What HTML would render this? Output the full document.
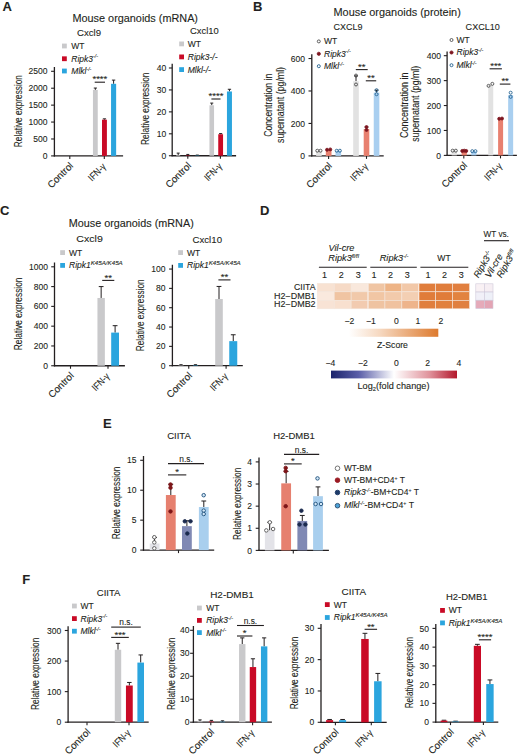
<!DOCTYPE html>
<html><head><meta charset="utf-8"><style>
html,body{margin:0;padding:0;background:#fff;}
svg{display:block;}
text{font-family:"Liberation Sans", sans-serif;fill:#231f20;stroke:#231f20;stroke-width:0.1px;}
</style></head><body>
<svg width="520" height="755" viewBox="0 0 520 755">
<rect width="520" height="755" fill="#fff"/>
<text x="2.6" y="10.8" font-size="13" font-weight="bold" >A</text>
<text x="252.9" y="10.8" font-size="13" font-weight="bold" >B</text>
<text x="0.1" y="214.6" font-size="13" font-weight="bold" >C</text>
<text x="259.9" y="214.6" font-size="13" font-weight="bold" >D</text>
<text x="103" y="427.8" font-size="13" font-weight="bold" >E</text>
<text x="22.3" y="583.5" font-size="13" font-weight="bold" >F</text>
<text x="72.5" y="22" font-size="10" textLength="125.5" lengthAdjust="spacingAndGlyphs" >Mouse organoids (mRNA)</text>
<text x="77" y="35.5" font-size="9.8" textLength="24" lengthAdjust="spacingAndGlyphs" >Cxcl9</text>
<rect x="62" y="43.6" width="4.8" height="4.8" fill="#c9c9cb" />
<text x="71.3" y="48.9" font-size="8.5" >WT</text>
<rect x="62" y="56.35" width="4.8" height="4.8" fill="#c90a26" />
<text x="71.3" y="61.65" font-size="8.5" ><tspan font-style="italic">Ripk3</tspan><tspan font-size="5.27" dy="-3.23" font-style="italic">-/-</tspan></text>
<rect x="62" y="68.6" width="4.8" height="4.8" fill="#2ba5de" />
<text x="71.3" y="73.9" font-size="8.5" ><tspan font-style="italic">Mlkl</tspan><tspan font-size="5.27" dy="-3.23" font-style="italic">-/-</tspan></text>
<line x1="54.4" y1="67" x2="54.4" y2="156.5" stroke="#231f20" stroke-width="1.3" />
<line x1="53.8" y1="155.9" x2="123.1" y2="155.9" stroke="#231f20" stroke-width="1.3" />
<line x1="51.1" y1="155.9" x2="54.4" y2="155.9" stroke="#231f20" stroke-width="1.1" />
<text x="47.6" y="159" font-size="9.7" text-anchor="end" textLength="4.75" lengthAdjust="spacingAndGlyphs" >0</text>
<line x1="51.1" y1="138.98" x2="54.4" y2="138.98" stroke="#231f20" stroke-width="1.1" />
<text x="47.6" y="142.08" font-size="9.7" text-anchor="end" textLength="14.25" lengthAdjust="spacingAndGlyphs" >500</text>
<line x1="51.1" y1="122.06" x2="54.4" y2="122.06" stroke="#231f20" stroke-width="1.1" />
<text x="47.6" y="125.16" font-size="9.7" text-anchor="end" textLength="19" lengthAdjust="spacingAndGlyphs" >1000</text>
<line x1="51.1" y1="105.14" x2="54.4" y2="105.14" stroke="#231f20" stroke-width="1.1" />
<text x="47.6" y="108.24" font-size="9.7" text-anchor="end" textLength="19" lengthAdjust="spacingAndGlyphs" >1500</text>
<line x1="51.1" y1="88.22" x2="54.4" y2="88.22" stroke="#231f20" stroke-width="1.1" />
<text x="47.6" y="91.32" font-size="9.7" text-anchor="end" textLength="19" lengthAdjust="spacingAndGlyphs" >2000</text>
<line x1="51.1" y1="71.3" x2="54.4" y2="71.3" stroke="#231f20" stroke-width="1.1" />
<text x="47.6" y="74.4" font-size="9.7" text-anchor="end" textLength="19" lengthAdjust="spacingAndGlyphs" >2500</text>
<line x1="69.8" y1="155.9" x2="69.8" y2="158.9" stroke="#231f20" stroke-width="1.1" />
<line x1="104.3" y1="155.9" x2="104.3" y2="158.9" stroke="#231f20" stroke-width="1.1" />
<line x1="95.35" y1="88.05" x2="95.35" y2="89.91" stroke="#231f20" stroke-width="1" />
<line x1="93.77" y1="88.05" x2="96.93" y2="88.05" stroke="#231f20" stroke-width="1" />
<rect x="92.95" y="89.91" width="4.8" height="65.99" fill="#c9c9cb" />
<line x1="104.45" y1="118.85" x2="104.45" y2="119.69" stroke="#231f20" stroke-width="1" />
<line x1="102.83" y1="118.85" x2="106.07" y2="118.85" stroke="#231f20" stroke-width="1" />
<rect x="102" y="119.69" width="4.9" height="36.21" fill="#c90a26" />
<line x1="113.6" y1="80.1" x2="113.6" y2="83.82" stroke="#231f20" stroke-width="1" />
<line x1="111.92" y1="80.1" x2="115.28" y2="80.1" stroke="#231f20" stroke-width="1" />
<rect x="111.05" y="83.82" width="5.1" height="72.08" fill="#2ba5de" />
<line x1="94.7" y1="82.2" x2="105" y2="82.2" stroke="#231f20" stroke-width="1.1" />
<text x="99.85" y="82.4" font-size="9.5" text-anchor="middle" >****</text>
<text x="21.7" y="111.1" font-size="10.6" text-anchor="middle" textLength="72.1" lengthAdjust="spacingAndGlyphs" transform="rotate(-90 21.7 111.1)" >Relative expression</text>
<text x="73.8" y="166.4" font-size="9.8" text-anchor="end" textLength="31.5" lengthAdjust="spacingAndGlyphs" transform="rotate(-45 73.8 166.4)" >Control</text>
<text x="106.6" y="167.2" font-size="9.8" text-anchor="end" textLength="20.5" lengthAdjust="spacingAndGlyphs" transform="rotate(-45 106.6 167.2)" >IFN-γ</text>
<text x="190" y="33.75" font-size="9.8" textLength="28.75" lengthAdjust="spacingAndGlyphs" >Cxcl10</text>
<rect x="179.2" y="41.5" width="4.8" height="4.8" fill="#c9c9cb" />
<text x="187.75" y="46.8" font-size="8.5" >WT</text>
<rect x="179.2" y="54.5" width="4.8" height="4.8" fill="#c90a26" />
<text x="187.75" y="59.8" font-size="8.5" ><tspan font-style="italic">Ripk3-/-</tspan></text>
<rect x="179.2" y="67.2" width="4.8" height="4.8" fill="#2ba5de" />
<text x="187.75" y="72.5" font-size="8.5" ><tspan font-style="italic">Mlkl-/-</tspan></text>
<line x1="172.2" y1="63.69" x2="172.2" y2="156.35" stroke="#231f20" stroke-width="1.3" />
<line x1="171.6" y1="155.75" x2="236.1" y2="155.75" stroke="#231f20" stroke-width="1.3" />
<line x1="168.9" y1="155.75" x2="172.2" y2="155.75" stroke="#231f20" stroke-width="1.1" />
<text x="166.2" y="158.85" font-size="9.7" text-anchor="end" textLength="4.75" lengthAdjust="spacingAndGlyphs" >0</text>
<line x1="168.9" y1="133.81" x2="172.2" y2="133.81" stroke="#231f20" stroke-width="1.1" />
<text x="166.2" y="136.91" font-size="9.7" text-anchor="end" textLength="9.5" lengthAdjust="spacingAndGlyphs" >10</text>
<line x1="168.9" y1="111.87" x2="172.2" y2="111.87" stroke="#231f20" stroke-width="1.1" />
<text x="166.2" y="114.97" font-size="9.7" text-anchor="end" textLength="9.5" lengthAdjust="spacingAndGlyphs" >20</text>
<line x1="168.9" y1="89.93" x2="172.2" y2="89.93" stroke="#231f20" stroke-width="1.1" />
<text x="166.2" y="93.03" font-size="9.7" text-anchor="end" textLength="9.5" lengthAdjust="spacingAndGlyphs" >30</text>
<line x1="168.9" y1="67.99" x2="172.2" y2="67.99" stroke="#231f20" stroke-width="1.1" />
<text x="166.2" y="71.09" font-size="9.7" text-anchor="end" textLength="9.5" lengthAdjust="spacingAndGlyphs" >40</text>
<line x1="187.8" y1="155.75" x2="187.8" y2="158.75" stroke="#231f20" stroke-width="1.1" />
<line x1="220.4" y1="155.75" x2="220.4" y2="158.75" stroke="#231f20" stroke-width="1.1" />
<line x1="178.2" y1="153.12" x2="178.2" y2="155.09" stroke="#231f20" stroke-width="1" />
<line x1="176.7" y1="153.12" x2="179.7" y2="153.12" stroke="#231f20" stroke-width="1" />
<rect x="176.2" y="155.09" width="4" height="0.66" fill="#c9c9cb" />
<line x1="187.8" y1="154.43" x2="187.8" y2="155.31" stroke="#231f20" stroke-width="1" />
<line x1="186.3" y1="154.43" x2="189.3" y2="154.43" stroke="#231f20" stroke-width="1" />
<rect x="185.8" y="155.31" width="4" height="0.44" fill="#c90a26" />
<line x1="197.3" y1="155.09" x2="197.3" y2="155.42" stroke="#231f20" stroke-width="1" />
<line x1="195.8" y1="155.09" x2="198.8" y2="155.09" stroke="#231f20" stroke-width="1" />
<rect x="195.3" y="155.42" width="4" height="0.33" fill="#2ba5de" />
<line x1="211.75" y1="103.09" x2="211.75" y2="105.29" stroke="#231f20" stroke-width="1" />
<line x1="210.23" y1="103.09" x2="213.27" y2="103.09" stroke="#231f20" stroke-width="1" />
<rect x="209.45" y="105.29" width="4.6" height="50.46" fill="#c9c9cb" />
<line x1="220.65" y1="133.59" x2="220.65" y2="134.25" stroke="#231f20" stroke-width="1" />
<line x1="219.07" y1="133.59" x2="222.23" y2="133.59" stroke="#231f20" stroke-width="1" />
<rect x="218.25" y="134.25" width="4.8" height="21.5" fill="#c90a26" />
<line x1="229.45" y1="89.27" x2="229.45" y2="91.47" stroke="#231f20" stroke-width="1" />
<line x1="227.8" y1="89.27" x2="231.1" y2="89.27" stroke="#231f20" stroke-width="1" />
<rect x="226.95" y="91.47" width="5" height="64.28" fill="#2ba5de" />
<line x1="211.4" y1="99" x2="220.5" y2="99" stroke="#231f20" stroke-width="1.1" />
<text x="215.95" y="99.2" font-size="9.5" text-anchor="middle" >****</text>
<text x="148.7" y="108.75" font-size="10.6" text-anchor="middle" textLength="72.3" lengthAdjust="spacingAndGlyphs" transform="rotate(-90 148.7 108.75)" >Relative expression</text>
<text x="191.8" y="166.25" font-size="9.8" text-anchor="end" textLength="31.5" lengthAdjust="spacingAndGlyphs" transform="rotate(-45 191.8 166.25)" >Control</text>
<text x="222.7" y="167.05" font-size="9.8" text-anchor="end" textLength="20.5" lengthAdjust="spacingAndGlyphs" transform="rotate(-45 222.7 167.05)" >IFN-γ</text>
<text x="333.5" y="15.6" font-size="10" textLength="127.3" lengthAdjust="spacingAndGlyphs" >Mouse organoids (protein)</text>
<text x="333.5" y="30.3" font-size="9.8" textLength="29" lengthAdjust="spacingAndGlyphs" >CXCL9</text>
<circle cx="318.8" cy="41.4" r="1.5" fill="none" stroke="#444" stroke-width="0.85"/>
<text x="324" y="44.3" font-size="8.5" >WT</text>
<circle cx="318.8" cy="53.8" r="1.6" fill="#7e1620" stroke="#7e1620" stroke-width="0.8"/>
<text x="324" y="56.7" font-size="8.5" ><tspan font-style="italic">Ripk3</tspan><tspan font-size="5.27" dy="-3.23" font-style="italic">-/-</tspan></text>
<circle cx="318.8" cy="66.2" r="1.5" fill="none" stroke="#1f5d8c" stroke-width="0.9"/>
<text x="324" y="69.1" font-size="8.5" ><tspan font-style="italic">Mlkl</tspan><tspan font-size="5.27" dy="-3.23" font-style="italic">-/-</tspan></text>
<line x1="311.8" y1="54.22" x2="311.8" y2="156.5" stroke="#231f20" stroke-width="1.3" />
<line x1="311.2" y1="155.9" x2="383.7" y2="155.9" stroke="#231f20" stroke-width="1.3" />
<line x1="308.5" y1="155.9" x2="311.8" y2="155.9" stroke="#231f20" stroke-width="1.1" />
<text x="304.9" y="159" font-size="9.7" text-anchor="end" textLength="4.75" lengthAdjust="spacingAndGlyphs" >0</text>
<line x1="308.5" y1="123.44" x2="311.8" y2="123.44" stroke="#231f20" stroke-width="1.1" />
<text x="304.9" y="126.54" font-size="9.7" text-anchor="end" textLength="14.25" lengthAdjust="spacingAndGlyphs" >200</text>
<line x1="308.5" y1="90.98" x2="311.8" y2="90.98" stroke="#231f20" stroke-width="1.1" />
<text x="304.9" y="94.08" font-size="9.7" text-anchor="end" textLength="14.25" lengthAdjust="spacingAndGlyphs" >400</text>
<line x1="308.5" y1="58.52" x2="311.8" y2="58.52" stroke="#231f20" stroke-width="1.1" />
<text x="304.9" y="61.62" font-size="9.7" text-anchor="end" textLength="14.25" lengthAdjust="spacingAndGlyphs" >600</text>
<line x1="328.6" y1="155.9" x2="328.6" y2="158.9" stroke="#231f20" stroke-width="1.1" />
<line x1="366.5" y1="155.9" x2="366.5" y2="158.9" stroke="#231f20" stroke-width="1.1" />
<rect x="316.1" y="151.03" width="5.6" height="4.87" fill="#e2e2e2" />
<circle cx="317.3" cy="150.71" r="1.5" fill="none" stroke="#444" stroke-width="0.85"/>
<circle cx="320.5" cy="150.71" r="1.5" fill="none" stroke="#444" stroke-width="0.85"/>
<rect x="325.8" y="149.73" width="5.7" height="6.17" fill="#e8806f" />
<circle cx="327.05" cy="149.73" r="1.5" fill="#7e1620" stroke="#7e1620" stroke-width="0.85"/>
<circle cx="330.25" cy="149.41" r="1.5" fill="#7e1620" stroke="#7e1620" stroke-width="0.85"/>
<rect x="335.5" y="150.71" width="5.6" height="5.19" fill="#a9cff0" />
<circle cx="336.7" cy="150.71" r="1.5" fill="none" stroke="#1f5d8c" stroke-width="0.85"/>
<circle cx="339.9" cy="150.71" r="1.5" fill="none" stroke="#1f5d8c" stroke-width="0.85"/>
<line x1="356" y1="75.89" x2="356" y2="81.24" stroke="#231f20" stroke-width="1" />
<line x1="354.15" y1="75.89" x2="357.85" y2="75.89" stroke="#231f20" stroke-width="1" />
<rect x="353.2" y="81.24" width="5.6" height="74.66" fill="#e2e2e2" />
<circle cx="356" cy="75.56" r="1.5" fill="none" stroke="#444" stroke-width="0.85"/>
<circle cx="356" cy="84.49" r="1.5" fill="none" stroke="#444" stroke-width="0.85"/>
<line x1="366.5" y1="127.01" x2="366.5" y2="129.12" stroke="#231f20" stroke-width="1" />
<line x1="364.65" y1="127.01" x2="368.35" y2="127.01" stroke="#231f20" stroke-width="1" />
<rect x="363.7" y="129.12" width="5.6" height="26.78" fill="#e8806f" />
<circle cx="366.5" cy="127.01" r="1.5" fill="#7e1620" stroke="#7e1620" stroke-width="0.85"/>
<circle cx="366.5" cy="129.93" r="1.5" fill="#7e1620" stroke="#7e1620" stroke-width="0.85"/>
<line x1="376.55" y1="90.17" x2="376.55" y2="92.6" stroke="#231f20" stroke-width="1" />
<line x1="374.7" y1="90.17" x2="378.4" y2="90.17" stroke="#231f20" stroke-width="1" />
<rect x="373.75" y="92.6" width="5.6" height="63.3" fill="#a9cff0" />
<circle cx="376.55" cy="90.17" r="1.5" fill="none" stroke="#1f5d8c" stroke-width="0.85"/>
<circle cx="376.55" cy="94.23" r="1.5" fill="none" stroke="#1f5d8c" stroke-width="0.85"/>
<line x1="355.8" y1="69.6" x2="367.7" y2="69.6" stroke="#231f20" stroke-width="1.1" />
<text x="361.75" y="69.8" font-size="9.5" text-anchor="middle" >**</text>
<line x1="365.8" y1="80.8" x2="376.2" y2="80.8" stroke="#231f20" stroke-width="1.1" />
<text x="371" y="81" font-size="9.5" text-anchor="middle" >**</text>
<text x="272" y="105.3" font-size="10.6" text-anchor="middle" textLength="63" lengthAdjust="spacingAndGlyphs" transform="rotate(-90 272 105.3)" >Concentration in</text>
<text x="284" y="105" font-size="10.6" text-anchor="middle" textLength="76" lengthAdjust="spacingAndGlyphs" transform="rotate(-90 284 105)" >supernatant (pg/ml)</text>
<text x="332.6" y="166.4" font-size="9.8" text-anchor="end" textLength="31.5" lengthAdjust="spacingAndGlyphs" transform="rotate(-45 332.6 166.4)" >Control</text>
<text x="368.8" y="167.2" font-size="9.8" text-anchor="end" textLength="20.5" lengthAdjust="spacingAndGlyphs" transform="rotate(-45 368.8 167.2)" >IFN-γ</text>
<text x="465.6" y="30.3" font-size="9.8" textLength="34.2" lengthAdjust="spacingAndGlyphs" >CXCL10</text>
<circle cx="451.5" cy="40" r="1.5" fill="none" stroke="#444" stroke-width="0.85"/>
<text x="456.5" y="42.9" font-size="8.5" >WT</text>
<circle cx="451.5" cy="52.5" r="1.6" fill="#7e1620" stroke="#7e1620" stroke-width="0.8"/>
<text x="456.5" y="55.4" font-size="8.5" ><tspan font-style="italic">Ripk3</tspan><tspan font-size="5.27" dy="-3.23" font-style="italic">-/-</tspan></text>
<circle cx="451.5" cy="65.2" r="1.5" fill="none" stroke="#1f5d8c" stroke-width="0.9"/>
<text x="456.5" y="68.1" font-size="8.5" ><tspan font-style="italic">Mlkl</tspan><tspan font-size="5.27" dy="-3.23" font-style="italic">-/-</tspan></text>
<line x1="447.1" y1="51.38" x2="447.1" y2="156" stroke="#231f20" stroke-width="1.3" />
<line x1="446.5" y1="155.4" x2="516.9" y2="155.4" stroke="#231f20" stroke-width="1.3" />
<line x1="443.8" y1="155.4" x2="447.1" y2="155.4" stroke="#231f20" stroke-width="1.1" />
<text x="441.1" y="158.5" font-size="9.7" text-anchor="end" textLength="4.75" lengthAdjust="spacingAndGlyphs" >0</text>
<line x1="443.8" y1="130.47" x2="447.1" y2="130.47" stroke="#231f20" stroke-width="1.1" />
<text x="441.1" y="133.57" font-size="9.7" text-anchor="end" textLength="14.25" lengthAdjust="spacingAndGlyphs" >100</text>
<line x1="443.8" y1="105.54" x2="447.1" y2="105.54" stroke="#231f20" stroke-width="1.1" />
<text x="441.1" y="108.64" font-size="9.7" text-anchor="end" textLength="14.25" lengthAdjust="spacingAndGlyphs" >200</text>
<line x1="443.8" y1="80.61" x2="447.1" y2="80.61" stroke="#231f20" stroke-width="1.1" />
<text x="441.1" y="83.71" font-size="9.7" text-anchor="end" textLength="14.25" lengthAdjust="spacingAndGlyphs" >300</text>
<line x1="443.8" y1="55.68" x2="447.1" y2="55.68" stroke="#231f20" stroke-width="1.1" />
<text x="441.1" y="58.78" font-size="9.7" text-anchor="end" textLength="14.25" lengthAdjust="spacingAndGlyphs" >400</text>
<line x1="463.8" y1="155.4" x2="463.8" y2="158.4" stroke="#231f20" stroke-width="1.1" />
<line x1="500.5" y1="155.4" x2="500.5" y2="158.4" stroke="#231f20" stroke-width="1.1" />
<rect x="451.65" y="150.66" width="5.2" height="4.74" fill="#e2e2e2" />
<circle cx="452.65" cy="150.66" r="1.5" fill="none" stroke="#444" stroke-width="0.85"/>
<circle cx="455.85" cy="150.66" r="1.5" fill="none" stroke="#444" stroke-width="0.85"/>
<rect x="461.65" y="150.91" width="5.2" height="4.49" fill="#e8806f" />
<circle cx="462.25" cy="150.91" r="1.5" fill="#7e1620" stroke="#7e1620" stroke-width="0.85"/>
<circle cx="464.25" cy="150.66" r="1.5" fill="#7e1620" stroke="#7e1620" stroke-width="0.85"/>
<circle cx="466.25" cy="150.91" r="1.5" fill="#7e1620" stroke="#7e1620" stroke-width="0.85"/>
<rect x="471.25" y="151.16" width="5.2" height="4.24" fill="#a9cff0" />
<circle cx="472.25" cy="151.16" r="1.5" fill="none" stroke="#1f5d8c" stroke-width="0.85"/>
<circle cx="475.45" cy="151.16" r="1.5" fill="none" stroke="#1f5d8c" stroke-width="0.85"/>
<rect x="488.25" y="84.85" width="5" height="70.55" fill="#e2e2e2" />
<circle cx="488.55" cy="85.85" r="1.5" fill="none" stroke="#444" stroke-width="0.85"/>
<circle cx="492.35" cy="83.85" r="1.5" fill="none" stroke="#444" stroke-width="0.85"/>
<rect x="498.1" y="118.75" width="5" height="36.65" fill="#e8806f" />
<circle cx="499.2" cy="118.75" r="1.5" fill="#7e1620" stroke="#7e1620" stroke-width="0.85"/>
<circle cx="502" cy="118.5" r="1.5" fill="#7e1620" stroke="#7e1620" stroke-width="0.85"/>
<rect x="508.15" y="95.07" width="5" height="60.33" fill="#a9cff0" />
<circle cx="510.65" cy="92.7" r="1.5" fill="none" stroke="#1f5d8c" stroke-width="0.85"/>
<circle cx="510.65" cy="96.89" r="1.5" fill="none" stroke="#1f5d8c" stroke-width="0.85"/>
<line x1="489.6" y1="68.8" x2="501.9" y2="68.8" stroke="#231f20" stroke-width="1.1" />
<text x="495.75" y="69" font-size="9.5" text-anchor="middle" >***</text>
<line x1="499.8" y1="84.1" x2="510.4" y2="84.1" stroke="#231f20" stroke-width="1.1" />
<text x="505.1" y="84.3" font-size="9.5" text-anchor="middle" >**</text>
<text x="407.6" y="105.3" font-size="10.6" text-anchor="middle" textLength="65.4" lengthAdjust="spacingAndGlyphs" transform="rotate(-90 407.6 105.3)" >Concentration in</text>
<text x="419" y="103.8" font-size="10.6" text-anchor="middle" textLength="76" lengthAdjust="spacingAndGlyphs" transform="rotate(-90 419 103.8)" >supernatant (pg/ml)</text>
<text x="467.8" y="165.9" font-size="9.8" text-anchor="end" textLength="31.5" lengthAdjust="spacingAndGlyphs" transform="rotate(-45 467.8 165.9)" >Control</text>
<text x="502.8" y="166.7" font-size="9.8" text-anchor="end" textLength="20.5" lengthAdjust="spacingAndGlyphs" transform="rotate(-45 502.8 166.7)" >IFN-γ</text>
<text x="68.75" y="226.9" font-size="10" textLength="125" lengthAdjust="spacingAndGlyphs" >Mouse organoids (mRNA)</text>
<text x="76.3" y="242.3" font-size="9.8" textLength="26.5" lengthAdjust="spacingAndGlyphs" >Cxcl9</text>
<rect x="60.2" y="250.2" width="4.8" height="4.8" fill="#c9c9cb" />
<text x="69" y="255.5" font-size="8.5" >WT</text>
<rect x="60.2" y="263" width="4.8" height="4.8" fill="#2ba5de" />
<text x="69" y="268.3" font-size="8.5" ><tspan font-style="italic">Ripk1</tspan><tspan font-size="6.2" dy="-3.3" font-style="italic">K45A/K45A</tspan></text>
<line x1="54.5" y1="262.5" x2="54.5" y2="366.35" stroke="#231f20" stroke-width="1.3" />
<line x1="53.9" y1="365.75" x2="124.9" y2="365.75" stroke="#231f20" stroke-width="1.3" />
<line x1="51.2" y1="365.75" x2="54.5" y2="365.75" stroke="#231f20" stroke-width="1.1" />
<text x="47.9" y="368.85" font-size="9.7" text-anchor="end" textLength="4.75" lengthAdjust="spacingAndGlyphs" >0</text>
<line x1="51.2" y1="345.96" x2="54.5" y2="345.96" stroke="#231f20" stroke-width="1.1" />
<text x="47.9" y="349.06" font-size="9.7" text-anchor="end" textLength="14.25" lengthAdjust="spacingAndGlyphs" >200</text>
<line x1="51.2" y1="326.17" x2="54.5" y2="326.17" stroke="#231f20" stroke-width="1.1" />
<text x="47.9" y="329.27" font-size="9.7" text-anchor="end" textLength="14.25" lengthAdjust="spacingAndGlyphs" >400</text>
<line x1="51.2" y1="306.38" x2="54.5" y2="306.38" stroke="#231f20" stroke-width="1.1" />
<text x="47.9" y="309.48" font-size="9.7" text-anchor="end" textLength="14.25" lengthAdjust="spacingAndGlyphs" >600</text>
<line x1="51.2" y1="286.59" x2="54.5" y2="286.59" stroke="#231f20" stroke-width="1.1" />
<text x="47.9" y="289.69" font-size="9.7" text-anchor="end" textLength="14.25" lengthAdjust="spacingAndGlyphs" >800</text>
<line x1="51.2" y1="266.8" x2="54.5" y2="266.8" stroke="#231f20" stroke-width="1.1" />
<text x="47.9" y="269.9" font-size="9.7" text-anchor="end" textLength="19" lengthAdjust="spacingAndGlyphs" >1000</text>
<line x1="70.5" y1="365.75" x2="70.5" y2="368.75" stroke="#231f20" stroke-width="1.1" />
<line x1="108" y1="365.75" x2="108" y2="368.75" stroke="#231f20" stroke-width="1.1" />
<line x1="101.15" y1="286.59" x2="101.15" y2="297.97" stroke="#231f20" stroke-width="1" />
<line x1="98.75" y1="286.59" x2="103.55" y2="286.59" stroke="#231f20" stroke-width="1" />
<rect x="97.45" y="297.97" width="7.4" height="67.78" fill="#c9c9cb" />
<line x1="115.1" y1="325.68" x2="115.1" y2="332.6" stroke="#231f20" stroke-width="1" />
<line x1="112.7" y1="325.68" x2="117.5" y2="325.68" stroke="#231f20" stroke-width="1" />
<rect x="111.2" y="332.6" width="7.8" height="33.15" fill="#2ba5de" />
<line x1="102.2" y1="280.4" x2="114.3" y2="280.4" stroke="#231f20" stroke-width="1.1" />
<text x="108.25" y="280.6" font-size="9.5" text-anchor="middle" >**</text>
<text x="21.7" y="313.9" font-size="10.6" text-anchor="middle" textLength="72.7" lengthAdjust="spacingAndGlyphs" transform="rotate(-90 21.7 313.9)" >Relative expression</text>
<text x="74.5" y="376.25" font-size="9.8" text-anchor="end" textLength="31.5" lengthAdjust="spacingAndGlyphs" transform="rotate(-45 74.5 376.25)" >Control</text>
<text x="110.3" y="377.05" font-size="9.8" text-anchor="end" textLength="20.5" lengthAdjust="spacingAndGlyphs" transform="rotate(-45 110.3 377.05)" >IFN-γ</text>
<text x="192.5" y="242.5" font-size="9.8" textLength="29.5" lengthAdjust="spacingAndGlyphs" >Cxcl10</text>
<rect x="178.2" y="250.2" width="4.8" height="4.8" fill="#c9c9cb" />
<text x="187" y="255.5" font-size="8.5" >WT</text>
<rect x="178.2" y="263" width="4.8" height="4.8" fill="#2ba5de" />
<text x="187" y="268.3" font-size="8.5" ><tspan font-style="italic">Ripk1</tspan><tspan font-size="6.2" dy="-3.3" font-style="italic">K45A/K45A</tspan></text>
<line x1="172.4" y1="264.75" x2="172.4" y2="366.3" stroke="#231f20" stroke-width="1.3" />
<line x1="171.8" y1="365.7" x2="242.8" y2="365.7" stroke="#231f20" stroke-width="1.3" />
<line x1="169.1" y1="365.7" x2="172.4" y2="365.7" stroke="#231f20" stroke-width="1.1" />
<text x="165.6" y="368.8" font-size="9.7" text-anchor="end" textLength="4.75" lengthAdjust="spacingAndGlyphs" >0</text>
<line x1="169.1" y1="346.37" x2="172.4" y2="346.37" stroke="#231f20" stroke-width="1.1" />
<text x="165.6" y="349.47" font-size="9.7" text-anchor="end" textLength="9.5" lengthAdjust="spacingAndGlyphs" >20</text>
<line x1="169.1" y1="327.04" x2="172.4" y2="327.04" stroke="#231f20" stroke-width="1.1" />
<text x="165.6" y="330.14" font-size="9.7" text-anchor="end" textLength="9.5" lengthAdjust="spacingAndGlyphs" >40</text>
<line x1="169.1" y1="307.71" x2="172.4" y2="307.71" stroke="#231f20" stroke-width="1.1" />
<text x="165.6" y="310.81" font-size="9.7" text-anchor="end" textLength="9.5" lengthAdjust="spacingAndGlyphs" >60</text>
<line x1="169.1" y1="288.38" x2="172.4" y2="288.38" stroke="#231f20" stroke-width="1.1" />
<text x="165.6" y="291.48" font-size="9.7" text-anchor="end" textLength="9.5" lengthAdjust="spacingAndGlyphs" >80</text>
<line x1="169.1" y1="269.05" x2="172.4" y2="269.05" stroke="#231f20" stroke-width="1.1" />
<text x="165.6" y="272.15" font-size="9.7" text-anchor="end" textLength="14.25" lengthAdjust="spacingAndGlyphs" >100</text>
<line x1="188.75" y1="365.7" x2="188.75" y2="368.7" stroke="#231f20" stroke-width="1.1" />
<line x1="226.1" y1="365.7" x2="226.1" y2="368.7" stroke="#231f20" stroke-width="1.1" />
<line x1="181" y1="364.73" x2="181" y2="365.31" stroke="#231f20" stroke-width="1" />
<line x1="179.35" y1="364.73" x2="182.65" y2="364.73" stroke="#231f20" stroke-width="1" />
<rect x="178.5" y="365.31" width="5" height="0.39" fill="#c9c9cb" />
<line x1="195.5" y1="364.73" x2="195.5" y2="365.31" stroke="#231f20" stroke-width="1" />
<line x1="193.85" y1="364.73" x2="197.15" y2="364.73" stroke="#231f20" stroke-width="1" />
<rect x="193" y="365.31" width="5" height="0.39" fill="#2ba5de" />
<line x1="219" y1="286.45" x2="219" y2="299.01" stroke="#231f20" stroke-width="1" />
<line x1="216.6" y1="286.45" x2="221.4" y2="286.45" stroke="#231f20" stroke-width="1" />
<rect x="215.2" y="299.01" width="7.6" height="66.69" fill="#c9c9cb" />
<line x1="233.25" y1="334.77" x2="233.25" y2="341.15" stroke="#231f20" stroke-width="1" />
<line x1="230.85" y1="334.77" x2="235.65" y2="334.77" stroke="#231f20" stroke-width="1" />
<rect x="229.25" y="341.15" width="8" height="24.55" fill="#2ba5de" />
<line x1="218.4" y1="279.9" x2="230.5" y2="279.9" stroke="#231f20" stroke-width="1.1" />
<text x="224.45" y="280.1" font-size="9.5" text-anchor="middle" >**</text>
<text x="144.3" y="315.3" font-size="10.6" text-anchor="middle" textLength="72" lengthAdjust="spacingAndGlyphs" transform="rotate(-90 144.3 315.3)" >Relative expression</text>
<text x="192.75" y="376.2" font-size="9.8" text-anchor="end" textLength="31.5" lengthAdjust="spacingAndGlyphs" transform="rotate(-45 192.75 376.2)" >Control</text>
<text x="228.4" y="377" font-size="9.8" text-anchor="end" textLength="20.5" lengthAdjust="spacingAndGlyphs" transform="rotate(-45 228.4 377)" >IFN-γ</text>
<text x="341.5" y="250.9" font-size="9.2" text-anchor="middle" font-style="italic" textLength="25.8" lengthAdjust="spacingAndGlyphs" >Vil-cre</text>
<text x="343.6" y="261.4" font-size="9.2" text-anchor="middle" ><tspan font-style="italic">Ripk3</tspan><tspan font-size="5.6" dy="-3.4" font-style="italic">fl/fl</tspan></text>
<text x="394.1" y="261.4" font-size="9.2" text-anchor="middle" ><tspan font-style="italic">Ripk3</tspan><tspan font-size="5.6" dy="-3.4" font-style="italic">-/-</tspan></text>
<text x="444" y="261.4" font-size="8.6" text-anchor="middle" >WT</text>
<line x1="318.9" y1="267.2" x2="366.7" y2="267.2" stroke="#231f20" stroke-width="1.1" />
<line x1="370.3" y1="267.2" x2="416.8" y2="267.2" stroke="#231f20" stroke-width="1.1" />
<line x1="420.4" y1="267.2" x2="468.3" y2="267.2" stroke="#231f20" stroke-width="1.1" />
<text x="324.4" y="277.5" font-size="9" text-anchor="middle" >1</text>
<text x="341.3" y="277.5" font-size="9" text-anchor="middle" >2</text>
<text x="358.2" y="277.5" font-size="9" text-anchor="middle" >3</text>
<text x="373.9" y="277.5" font-size="9" text-anchor="middle" >1</text>
<text x="390.4" y="277.5" font-size="9" text-anchor="middle" >2</text>
<text x="407.3" y="277.5" font-size="9" text-anchor="middle" >3</text>
<text x="427.9" y="277.5" font-size="9" text-anchor="middle" >1</text>
<text x="444.6" y="277.5" font-size="9" text-anchor="middle" >2</text>
<text x="461.3" y="277.5" font-size="9" text-anchor="middle" >3</text>
<rect x="317.3" y="283.3" width="16.91" height="8.5" fill="#f8e2d2" stroke="#f3e6dc" stroke-width="0.6"/>
<rect x="334.21" y="283.3" width="16.91" height="8.5" fill="#f6dac6" stroke="#f3e6dc" stroke-width="0.6"/>
<rect x="351.12" y="283.3" width="16.91" height="8.5" fill="#f9e8dc" stroke="#f3e6dc" stroke-width="0.6"/>
<rect x="368.03" y="283.3" width="16.91" height="8.5" fill="#f0c5a3" stroke="#f3e6dc" stroke-width="0.6"/>
<rect x="384.94" y="283.3" width="16.91" height="8.5" fill="#eeb486" stroke="#f3e6dc" stroke-width="0.6"/>
<rect x="401.86" y="283.3" width="16.91" height="8.5" fill="#f2c8a8" stroke="#f3e6dc" stroke-width="0.6"/>
<rect x="418.77" y="283.3" width="16.91" height="8.5" fill="#e07d3c" stroke="#f3e6dc" stroke-width="0.6"/>
<rect x="435.68" y="283.3" width="16.91" height="8.5" fill="#e07d3c" stroke="#f3e6dc" stroke-width="0.6"/>
<rect x="452.59" y="283.3" width="16.91" height="8.5" fill="#e17f3f" stroke="#f3e6dc" stroke-width="0.6"/>
<rect x="317.3" y="291.8" width="16.91" height="8.5" fill="#fae9de" stroke="#f3e6dc" stroke-width="0.6"/>
<rect x="334.21" y="291.8" width="16.91" height="8.5" fill="#f0c4a2" stroke="#f3e6dc" stroke-width="0.6"/>
<rect x="351.12" y="291.8" width="16.91" height="8.5" fill="#f1c9aa" stroke="#f3e6dc" stroke-width="0.6"/>
<rect x="368.03" y="291.8" width="16.91" height="8.5" fill="#f1c6a4" stroke="#f3e6dc" stroke-width="0.6"/>
<rect x="384.94" y="291.8" width="16.91" height="8.5" fill="#f2caab" stroke="#f3e6dc" stroke-width="0.6"/>
<rect x="401.86" y="291.8" width="16.91" height="8.5" fill="#f3cfb3" stroke="#f3e6dc" stroke-width="0.6"/>
<rect x="418.77" y="291.8" width="16.91" height="8.5" fill="#e07c3a" stroke="#f3e6dc" stroke-width="0.6"/>
<rect x="435.68" y="291.8" width="16.91" height="8.5" fill="#e07c3a" stroke="#f3e6dc" stroke-width="0.6"/>
<rect x="452.59" y="291.8" width="16.91" height="8.5" fill="#e2833f" stroke="#f3e6dc" stroke-width="0.6"/>
<rect x="317.3" y="300.3" width="16.91" height="8.5" fill="#f8e3d5" stroke="#f3e6dc" stroke-width="0.6"/>
<rect x="334.21" y="300.3" width="16.91" height="8.5" fill="#f8e0cf" stroke="#f3e6dc" stroke-width="0.6"/>
<rect x="351.12" y="300.3" width="16.91" height="8.5" fill="#f2cbb0" stroke="#f3e6dc" stroke-width="0.6"/>
<rect x="368.03" y="300.3" width="16.91" height="8.5" fill="#efc3a1" stroke="#f3e6dc" stroke-width="0.6"/>
<rect x="384.94" y="300.3" width="16.91" height="8.5" fill="#f0c29f" stroke="#f3e6dc" stroke-width="0.6"/>
<rect x="401.86" y="300.3" width="16.91" height="8.5" fill="#eeb48b" stroke="#f3e6dc" stroke-width="0.6"/>
<rect x="418.77" y="300.3" width="16.91" height="8.5" fill="#e07e3d" stroke="#f3e6dc" stroke-width="0.6"/>
<rect x="435.68" y="300.3" width="16.91" height="8.5" fill="#e1803d" stroke="#f3e6dc" stroke-width="0.6"/>
<rect x="452.59" y="300.3" width="16.91" height="8.5" fill="#e08040" stroke="#f3e6dc" stroke-width="0.6"/>
<line x1="368.03" y1="283.3" x2="368.03" y2="308.8" stroke="#fbf3ee" stroke-width="0.8" />
<line x1="418.77" y1="283.3" x2="418.77" y2="308.8" stroke="#fbf3ee" stroke-width="0.8" />
<text x="315.6" y="289.8" font-size="8.4" text-anchor="end" textLength="21.6" lengthAdjust="spacingAndGlyphs" >CIITA</text>
<text x="315.6" y="298.5" font-size="8.4" text-anchor="end" textLength="41.6" lengthAdjust="spacingAndGlyphs" >H2−DMB1</text>
<text x="315.6" y="307.1" font-size="8.4" text-anchor="end" textLength="41.6" lengthAdjust="spacingAndGlyphs" >H2−DMB2</text>
<rect x="475.8" y="283.8" width="8.6" height="8.23" fill="#f9f1f4" stroke="#cfc9da" stroke-width="0.6"/>
<rect x="484.4" y="283.8" width="8.6" height="8.23" fill="#f6eef3" stroke="#cfc9da" stroke-width="0.6"/>
<rect x="475.8" y="292.03" width="8.6" height="8.23" fill="#f1f0f8" stroke="#cfc9da" stroke-width="0.6"/>
<rect x="484.4" y="292.03" width="8.6" height="8.23" fill="#eef0f8" stroke="#cfc9da" stroke-width="0.6"/>
<rect x="475.8" y="300.26" width="8.6" height="8.23" fill="#e5aab9" stroke="#cfc9da" stroke-width="0.6"/>
<rect x="484.4" y="300.26" width="8.6" height="8.23" fill="#e3a4b4" stroke="#cfc9da" stroke-width="0.6"/>
<text x="483.5" y="237.2" font-size="8.6" textLength="25.4" lengthAdjust="spacingAndGlyphs" >WT vs.</text>
<line x1="484" y1="240.7" x2="509" y2="240.7" stroke="#231f20" stroke-width="1.1" />
<text x="478.5" y="278.5" font-size="9.2" transform="rotate(-60 478.5 278.5)" ><tspan font-style="italic">Ripk3</tspan><tspan font-size="5.5" dy="-3.4" font-style="italic">-/-</tspan></text>
<text x="490" y="278.5" font-size="9.2" font-style="italic" transform="rotate(-60 490 278.5)" >Vil-cre</text>
<text x="501.5" y="278.5" font-size="9.2" transform="rotate(-60 501.5 278.5)" ><tspan font-style="italic">Ripk3</tspan><tspan font-size="5.5" dy="-3.4" font-style="italic">fl/fl</tspan></text>
<text x="349.5" y="323.8" font-size="8.6" text-anchor="middle" >−2</text>
<text x="371" y="323.8" font-size="8.6" text-anchor="middle" >−1</text>
<text x="396.4" y="323.8" font-size="8.6" text-anchor="middle" >0</text>
<text x="418" y="323.8" font-size="8.6" text-anchor="middle" >1</text>
<text x="441" y="323.8" font-size="8.6" text-anchor="middle" >2</text>
<defs><linearGradient id="gz" x1="0" x2="1" y1="0" y2="0"><stop offset="0" stop-color="#ffffff"/><stop offset="0.35" stop-color="#f6d8c0"/><stop offset="1" stop-color="#dd7a2e"/></linearGradient><linearGradient id="gl" x1="0" x2="1" y1="0" y2="0"><stop offset="0" stop-color="#1b236b"/><stop offset="0.22" stop-color="#5a5ea8"/><stop offset="0.5" stop-color="#ffffff"/><stop offset="0.78" stop-color="#e0939c"/><stop offset="1" stop-color="#b3182c"/></linearGradient></defs>
<rect x="348.8" y="328.7" width="89.5" height="8.1" fill="url(#gz)" />
<text x="392.5" y="348.4" font-size="8.6" text-anchor="middle" textLength="30.9" lengthAdjust="spacingAndGlyphs" >Z-Score</text>
<text x="330.5" y="365.7" font-size="8.6" text-anchor="middle" >−4</text>
<text x="363" y="365.7" font-size="8.6" text-anchor="middle" >−2</text>
<text x="396.4" y="365.7" font-size="8.6" text-anchor="middle" >0</text>
<text x="427.6" y="365.7" font-size="8.6" text-anchor="middle" >2</text>
<text x="459" y="365.7" font-size="8.6" text-anchor="middle" >4</text>
<rect x="331" y="370.6" width="126" height="7.8" fill="url(#gl)" />
<text x="393.5" y="389.3" font-size="8.6" text-anchor="middle" textLength="72" lengthAdjust="spacingAndGlyphs" >Log<tspan font-size="5.4" dy="2">2</tspan><tspan dy="-2">(fold change)</tspan></text>
<text x="179" y="439" font-size="9.8" text-anchor="middle" textLength="23.7" lengthAdjust="spacingAndGlyphs" >CIITA</text>
<text x="294" y="439.4" font-size="9.8" text-anchor="middle" textLength="41.7" lengthAdjust="spacingAndGlyphs" >H2-DMB1</text>
<line x1="143.5" y1="456" x2="143.5" y2="550.7" stroke="#231f20" stroke-width="1.3" />
<line x1="142.9" y1="550.1" x2="214.2" y2="550.1" stroke="#231f20" stroke-width="1.3" />
<line x1="140.2" y1="550.1" x2="143.5" y2="550.1" stroke="#231f20" stroke-width="1.1" />
<text x="136.5" y="553.2" font-size="9.7" text-anchor="end" textLength="4.75" lengthAdjust="spacingAndGlyphs" >0</text>
<line x1="140.2" y1="520.16" x2="143.5" y2="520.16" stroke="#231f20" stroke-width="1.1" />
<text x="136.5" y="523.26" font-size="9.7" text-anchor="end" textLength="4.75" lengthAdjust="spacingAndGlyphs" >5</text>
<line x1="140.2" y1="490.23" x2="143.5" y2="490.23" stroke="#231f20" stroke-width="1.1" />
<text x="136.5" y="493.33" font-size="9.7" text-anchor="end" textLength="9.5" lengthAdjust="spacingAndGlyphs" >10</text>
<line x1="140.2" y1="460.3" x2="143.5" y2="460.3" stroke="#231f20" stroke-width="1.1" />
<text x="136.5" y="463.4" font-size="9.7" text-anchor="end" textLength="9.5" lengthAdjust="spacingAndGlyphs" >15</text>
<line x1="178.5" y1="550.1" x2="178.5" y2="553.1" stroke="#231f20" stroke-width="1.1" />
<line x1="154.6" y1="537.53" x2="154.6" y2="543.51" stroke="#231f20" stroke-width="1" />
<line x1="152.2" y1="537.53" x2="157" y2="537.53" stroke="#231f20" stroke-width="1" />
<rect x="149.7" y="543.51" width="9.8" height="6.59" fill="#e3e3e8" />
<circle cx="154.3" cy="537.2" r="1.75" fill="#fff" stroke="#555" stroke-width="0.9"/>
<circle cx="154.3" cy="542.4" r="1.75" fill="#fff" stroke="#555" stroke-width="0.9"/>
<circle cx="154.3" cy="548.3" r="1.75" fill="#fff" stroke="#555" stroke-width="0.9"/>
<line x1="170.8" y1="484.24" x2="170.8" y2="495.02" stroke="#231f20" stroke-width="1" />
<line x1="168.4" y1="484.24" x2="173.2" y2="484.24" stroke="#231f20" stroke-width="1" />
<rect x="165.9" y="495.02" width="9.8" height="55.08" fill="#e6806f" />
<circle cx="170.5" cy="484.5" r="1.75" fill="#7d1518" stroke="#7d1518" stroke-width="0.9"/>
<circle cx="170.5" cy="487.7" r="1.75" fill="#7d1518" stroke="#7d1518" stroke-width="0.9"/>
<circle cx="170.5" cy="511.4" r="1.75" fill="#7d1518" stroke="#7d1518" stroke-width="0.9"/>
<line x1="186.9" y1="520.76" x2="186.9" y2="526.15" stroke="#231f20" stroke-width="1" />
<line x1="184.5" y1="520.76" x2="189.3" y2="520.76" stroke="#231f20" stroke-width="1" />
<rect x="182" y="526.15" width="9.8" height="23.95" fill="#8089b4" />
<circle cx="184.8" cy="521.3" r="1.75" fill="#1b2a4e" stroke="#1b2a4e" stroke-width="0.9"/>
<circle cx="190.5" cy="521.3" r="1.75" fill="#1b2a4e" stroke="#1b2a4e" stroke-width="0.9"/>
<circle cx="187.3" cy="533.5" r="1.75" fill="#1b2a4e" stroke="#1b2a4e" stroke-width="0.9"/>
<line x1="203.8" y1="501.01" x2="203.8" y2="506.99" stroke="#231f20" stroke-width="1" />
<line x1="201.4" y1="501.01" x2="206.2" y2="501.01" stroke="#231f20" stroke-width="1" />
<rect x="198.9" y="506.99" width="9.8" height="43.11" fill="#a9cfee" />
<circle cx="203.7" cy="495.2" r="1.75" fill="#d4e8f8" stroke="#1d4f7a" stroke-width="0.9"/>
<circle cx="203.7" cy="510.6" r="1.75" fill="#d4e8f8" stroke="#1d4f7a" stroke-width="0.9"/>
<circle cx="203.7" cy="514" r="1.75" fill="#d4e8f8" stroke="#1d4f7a" stroke-width="0.9"/>
<line x1="168" y1="463.6" x2="204" y2="463.6" stroke="#231f20" stroke-width="1.1" />
<text x="186" y="461.8" font-size="8.4" text-anchor="middle" >n.s.</text>
<line x1="168" y1="474.9" x2="186.3" y2="474.9" stroke="#231f20" stroke-width="1.1" />
<text x="177.15" y="475.1" font-size="9.5" text-anchor="middle" >*</text>
<text x="120.5" y="502.9" font-size="10.6" text-anchor="middle" textLength="72.7" lengthAdjust="spacingAndGlyphs" transform="rotate(-90 120.5 502.9)" >Relative expression</text>
<line x1="259" y1="457.6" x2="259" y2="551" stroke="#231f20" stroke-width="1.3" />
<line x1="258.4" y1="550.4" x2="328.9" y2="550.4" stroke="#231f20" stroke-width="1.3" />
<line x1="255.7" y1="550.4" x2="259" y2="550.4" stroke="#231f20" stroke-width="1.1" />
<text x="252.1" y="553.5" font-size="9.7" text-anchor="end" textLength="4.75" lengthAdjust="spacingAndGlyphs" >0</text>
<line x1="255.7" y1="528.27" x2="259" y2="528.27" stroke="#231f20" stroke-width="1.1" />
<text x="252.1" y="531.38" font-size="9.7" text-anchor="end" textLength="4.75" lengthAdjust="spacingAndGlyphs" >1</text>
<line x1="255.7" y1="506.15" x2="259" y2="506.15" stroke="#231f20" stroke-width="1.1" />
<text x="252.1" y="509.25" font-size="9.7" text-anchor="end" textLength="4.75" lengthAdjust="spacingAndGlyphs" >2</text>
<line x1="255.7" y1="484.02" x2="259" y2="484.02" stroke="#231f20" stroke-width="1.1" />
<text x="252.1" y="487.12" font-size="9.7" text-anchor="end" textLength="4.75" lengthAdjust="spacingAndGlyphs" >3</text>
<line x1="255.7" y1="461.9" x2="259" y2="461.9" stroke="#231f20" stroke-width="1.1" />
<text x="252.1" y="465" font-size="9.7" text-anchor="end" textLength="4.75" lengthAdjust="spacingAndGlyphs" >4</text>
<line x1="293.3" y1="550.4" x2="293.3" y2="553.4" stroke="#231f20" stroke-width="1.1" />
<line x1="269.7" y1="522.3" x2="269.7" y2="530.49" stroke="#231f20" stroke-width="1" />
<line x1="267.3" y1="522.3" x2="272.1" y2="522.3" stroke="#231f20" stroke-width="1" />
<rect x="264.9" y="530.49" width="9.6" height="19.91" fill="#e3e3e8" />
<circle cx="266.3" cy="530.4" r="1.75" fill="#fff" stroke="#555" stroke-width="0.9"/>
<circle cx="269.8" cy="522.3" r="1.75" fill="#fff" stroke="#555" stroke-width="0.9"/>
<circle cx="273.1" cy="529" r="1.75" fill="#fff" stroke="#555" stroke-width="0.9"/>
<line x1="286.15" y1="471.41" x2="286.15" y2="483.36" stroke="#231f20" stroke-width="1" />
<line x1="283.75" y1="471.41" x2="288.55" y2="471.41" stroke="#231f20" stroke-width="1" />
<rect x="281.25" y="483.36" width="9.8" height="67.04" fill="#e6806f" />
<circle cx="285.7" cy="467.9" r="1.75" fill="#7d1518" stroke="#7d1518" stroke-width="0.9"/>
<circle cx="285.7" cy="471.2" r="1.75" fill="#7d1518" stroke="#7d1518" stroke-width="0.9"/>
<circle cx="285.7" cy="506.2" r="1.75" fill="#7d1518" stroke="#7d1518" stroke-width="0.9"/>
<line x1="302.3" y1="515.44" x2="302.3" y2="520.97" stroke="#231f20" stroke-width="1" />
<line x1="299.9" y1="515.44" x2="304.7" y2="515.44" stroke="#231f20" stroke-width="1" />
<rect x="297.4" y="520.97" width="9.8" height="29.43" fill="#8089b4" />
<circle cx="301.4" cy="510.7" r="1.75" fill="#1b2a4e" stroke="#1b2a4e" stroke-width="0.9"/>
<circle cx="299.5" cy="524.5" r="1.75" fill="#1b2a4e" stroke="#1b2a4e" stroke-width="0.9"/>
<circle cx="305.4" cy="524.5" r="1.75" fill="#1b2a4e" stroke="#1b2a4e" stroke-width="0.9"/>
<line x1="318" y1="486.9" x2="318" y2="496.19" stroke="#231f20" stroke-width="1" />
<line x1="315.6" y1="486.9" x2="320.4" y2="486.9" stroke="#231f20" stroke-width="1" />
<rect x="313.1" y="496.19" width="9.8" height="54.21" fill="#a9cfee" />
<circle cx="317.5" cy="478.4" r="1.75" fill="#d4e8f8" stroke="#1d4f7a" stroke-width="0.9"/>
<circle cx="315.6" cy="504" r="1.75" fill="#d4e8f8" stroke="#1d4f7a" stroke-width="0.9"/>
<circle cx="321" cy="504" r="1.75" fill="#d4e8f8" stroke="#1d4f7a" stroke-width="0.9"/>
<line x1="284" y1="454.4" x2="319.2" y2="454.4" stroke="#231f20" stroke-width="1.1" />
<text x="301.6" y="452.6" font-size="8.4" text-anchor="middle" >n.s.</text>
<line x1="284" y1="463.9" x2="301.7" y2="463.9" stroke="#231f20" stroke-width="1.1" />
<text x="292.85" y="464.1" font-size="9.5" text-anchor="middle" >*</text>
<text x="240.7" y="503.8" font-size="10.6" text-anchor="middle" textLength="72.2" lengthAdjust="spacingAndGlyphs" transform="rotate(-90 240.7 503.8)" >Relative expression</text>
<circle cx="337.5" cy="468.3" r="2.3" fill="#fff" stroke="#666" stroke-width="0.9"/>
<text x="344" y="471" font-size="9.2" textLength="27.7" lengthAdjust="spacingAndGlyphs" >WT-BM</text>
<circle cx="337.5" cy="480.2" r="2.3" fill="#9a1a22" stroke="#9a1a22" stroke-width="0.9"/>
<text x="344" y="482.9" font-size="9.2" textLength="60.9" lengthAdjust="spacingAndGlyphs" >WT-BM+CD4<tspan font-size="5.6" dy="-3.4">+</tspan><tspan dy="3.4"> T</tspan></text>
<circle cx="337.5" cy="492.5" r="2.3" fill="#1d3a68" stroke="#1d3a68" stroke-width="0.9"/>
<text x="344" y="495.2" font-size="9.2" textLength="74.9" lengthAdjust="spacingAndGlyphs" ><tspan font-style="italic">Ripk3</tspan><tspan font-size="5.6" dy="-3.4" font-style="italic">-/-</tspan><tspan dy="3.4">-BM+CD4</tspan><tspan font-size="5.6" dy="-3.4">+</tspan><tspan dy="3.4"> T</tspan></text>
<circle cx="337.5" cy="505.7" r="2.3" fill="#4ba2d8" stroke="#2a4a6a" stroke-width="0.9"/>
<text x="344" y="508.4" font-size="9.2" textLength="70" lengthAdjust="spacingAndGlyphs" ><tspan font-style="italic">Mlkl</tspan><tspan font-size="5.6" dy="-3.4" font-style="italic">-/-</tspan><tspan dy="3.4">-BM+CD4</tspan><tspan font-size="5.6" dy="-3.4">+</tspan><tspan dy="3.4"> T</tspan></text>
<text x="108.6" y="595.5" font-size="9.8" text-anchor="middle" textLength="23.7" lengthAdjust="spacingAndGlyphs" >CIITA</text>
<rect x="72" y="603.6" width="4.8" height="4.8" fill="#c9c9cb" />
<text x="80.5" y="608.9" font-size="8.5" >WT</text>
<rect x="72" y="616.2" width="4.8" height="4.8" fill="#c90a26" />
<text x="80.5" y="621.5" font-size="8.5" ><tspan font-style="italic">Ripk3</tspan><tspan font-size="5.27" dy="-3.23" font-style="italic">-/-</tspan></text>
<rect x="72" y="628.8" width="4.8" height="4.8" fill="#2ba5de" />
<text x="80.5" y="634.1" font-size="8.5" ><tspan font-style="italic">Mlkl</tspan><tspan font-size="5.27" dy="-3.23" font-style="italic">-/-</tspan></text>
<line x1="68.1" y1="626.19" x2="68.1" y2="722.8" stroke="#231f20" stroke-width="1.3" />
<line x1="67.5" y1="722.2" x2="148.7" y2="722.2" stroke="#231f20" stroke-width="1.3" />
<line x1="64.8" y1="722.2" x2="68.1" y2="722.2" stroke="#231f20" stroke-width="1.1" />
<text x="61.2" y="725.3" font-size="9.7" text-anchor="end" textLength="4.75" lengthAdjust="spacingAndGlyphs" >0</text>
<line x1="64.8" y1="691.63" x2="68.1" y2="691.63" stroke="#231f20" stroke-width="1.1" />
<text x="61.2" y="694.73" font-size="9.7" text-anchor="end" textLength="14.25" lengthAdjust="spacingAndGlyphs" >100</text>
<line x1="64.8" y1="661.06" x2="68.1" y2="661.06" stroke="#231f20" stroke-width="1.1" />
<text x="61.2" y="664.16" font-size="9.7" text-anchor="end" textLength="14.25" lengthAdjust="spacingAndGlyphs" >200</text>
<line x1="64.8" y1="630.49" x2="68.1" y2="630.49" stroke="#231f20" stroke-width="1.1" />
<text x="61.2" y="633.59" font-size="9.7" text-anchor="end" textLength="14.25" lengthAdjust="spacingAndGlyphs" >300</text>
<line x1="87" y1="722.2" x2="87" y2="725.2" stroke="#231f20" stroke-width="1.1" />
<line x1="129" y1="722.2" x2="129" y2="725.2" stroke="#231f20" stroke-width="1.1" />
<line x1="118" y1="643.33" x2="118" y2="649.75" stroke="#231f20" stroke-width="1" />
<line x1="115.89" y1="643.33" x2="120.11" y2="643.33" stroke="#231f20" stroke-width="1" />
<rect x="114.8" y="649.75" width="6.4" height="72.45" fill="#c9c9cb" />
<line x1="129.35" y1="682.46" x2="129.35" y2="685.52" stroke="#231f20" stroke-width="1" />
<line x1="127.11" y1="682.46" x2="131.59" y2="682.46" stroke="#231f20" stroke-width="1" />
<rect x="125.95" y="685.52" width="6.8" height="36.68" fill="#c90a26" />
<line x1="140.7" y1="654.95" x2="140.7" y2="662.59" stroke="#231f20" stroke-width="1" />
<line x1="138.52" y1="654.95" x2="142.88" y2="654.95" stroke="#231f20" stroke-width="1" />
<rect x="137.4" y="662.59" width="6.6" height="59.61" fill="#2ba5de" />
<line x1="111.2" y1="627.1" x2="140.8" y2="627.1" stroke="#231f20" stroke-width="1.1" />
<text x="126" y="625.3" font-size="8.4" text-anchor="middle" >n.s.</text>
<line x1="111.2" y1="637.4" x2="128.8" y2="637.4" stroke="#231f20" stroke-width="1.1" />
<text x="120" y="637.6" font-size="9.5" text-anchor="middle" >***</text>
<text x="39.3" y="673.8" font-size="10.6" text-anchor="middle" textLength="72.3" lengthAdjust="spacingAndGlyphs" transform="rotate(-90 39.3 673.8)" >Relative expression</text>
<text x="91" y="732.7" font-size="9.8" text-anchor="end" textLength="31.5" lengthAdjust="spacingAndGlyphs" transform="rotate(-45 91 732.7)" >Control</text>
<text x="131.3" y="733.5" font-size="9.8" text-anchor="end" textLength="20.5" lengthAdjust="spacingAndGlyphs" transform="rotate(-45 131.3 733.5)" >IFN-γ</text>
<text x="232" y="597.5" font-size="9.8" text-anchor="middle" textLength="43.6" lengthAdjust="spacingAndGlyphs" >H2-DMB1</text>
<rect x="197" y="605.6" width="4.8" height="4.8" fill="#c9c9cb" />
<text x="206.2" y="610.9" font-size="8.5" >WT</text>
<rect x="197" y="618" width="4.8" height="4.8" fill="#c90a26" />
<text x="206.2" y="623.3" font-size="8.5" ><tspan font-style="italic">Ripk3</tspan><tspan font-size="5.27" dy="-3.23" font-style="italic">-/-</tspan></text>
<rect x="197" y="630.2" width="4.8" height="4.8" fill="#2ba5de" />
<text x="206.2" y="635.5" font-size="8.5" ><tspan font-style="italic">Mlkl</tspan><tspan font-size="5.27" dy="-3.23" font-style="italic">-/-</tspan></text>
<line x1="193.4" y1="626" x2="193.4" y2="722.8" stroke="#231f20" stroke-width="1.3" />
<line x1="192.8" y1="722.2" x2="271.9" y2="722.2" stroke="#231f20" stroke-width="1.3" />
<line x1="190.1" y1="722.2" x2="193.4" y2="722.2" stroke="#231f20" stroke-width="1.1" />
<text x="189.4" y="725.3" font-size="9.7" text-anchor="end" textLength="4.75" lengthAdjust="spacingAndGlyphs" >0</text>
<line x1="190.1" y1="699.23" x2="193.4" y2="699.23" stroke="#231f20" stroke-width="1.1" />
<text x="189.4" y="702.33" font-size="9.7" text-anchor="end" textLength="9.5" lengthAdjust="spacingAndGlyphs" >10</text>
<line x1="190.1" y1="676.25" x2="193.4" y2="676.25" stroke="#231f20" stroke-width="1.1" />
<text x="189.4" y="679.35" font-size="9.7" text-anchor="end" textLength="9.5" lengthAdjust="spacingAndGlyphs" >20</text>
<line x1="190.1" y1="653.28" x2="193.4" y2="653.28" stroke="#231f20" stroke-width="1.1" />
<text x="189.4" y="656.38" font-size="9.7" text-anchor="end" textLength="9.5" lengthAdjust="spacingAndGlyphs" >30</text>
<line x1="190.1" y1="630.3" x2="193.4" y2="630.3" stroke="#231f20" stroke-width="1.1" />
<text x="189.4" y="633.4" font-size="9.7" text-anchor="end" textLength="9.5" lengthAdjust="spacingAndGlyphs" >40</text>
<line x1="210.8" y1="722.2" x2="210.8" y2="725.2" stroke="#231f20" stroke-width="1.1" />
<line x1="252.6" y1="722.2" x2="252.6" y2="725.2" stroke="#231f20" stroke-width="1.1" />
<line x1="200" y1="719.9" x2="200" y2="721.28" stroke="#231f20" stroke-width="1" />
<line x1="198.35" y1="719.9" x2="201.65" y2="719.9" stroke="#231f20" stroke-width="1" />
<rect x="197.5" y="721.28" width="5" height="0.92" fill="#c9c9cb" />
<line x1="211.4" y1="720.36" x2="211.4" y2="721.51" stroke="#231f20" stroke-width="1" />
<line x1="209.75" y1="720.36" x2="213.05" y2="720.36" stroke="#231f20" stroke-width="1" />
<rect x="208.9" y="721.51" width="5" height="0.69" fill="#c90a26" />
<line x1="222.5" y1="720.82" x2="222.5" y2="721.74" stroke="#231f20" stroke-width="1" />
<line x1="220.85" y1="720.82" x2="224.15" y2="720.82" stroke="#231f20" stroke-width="1" />
<rect x="220" y="721.74" width="5" height="0.46" fill="#2ba5de" />
<line x1="242.25" y1="637.88" x2="242.25" y2="644.09" stroke="#231f20" stroke-width="1" />
<line x1="240.14" y1="637.88" x2="244.36" y2="637.88" stroke="#231f20" stroke-width="1" />
<rect x="239.05" y="644.09" width="6.4" height="78.11" fill="#c9c9cb" />
<line x1="252.95" y1="658.79" x2="252.95" y2="667.06" stroke="#231f20" stroke-width="1" />
<line x1="250.84" y1="658.79" x2="255.06" y2="658.79" stroke="#231f20" stroke-width="1" />
<rect x="249.75" y="667.06" width="6.4" height="55.14" fill="#c90a26" />
<line x1="264.15" y1="637.88" x2="264.15" y2="646.38" stroke="#231f20" stroke-width="1" />
<line x1="262.04" y1="637.88" x2="266.26" y2="637.88" stroke="#231f20" stroke-width="1" />
<rect x="260.95" y="646.38" width="6.4" height="75.82" fill="#2ba5de" />
<line x1="237" y1="625.5" x2="263.9" y2="625.5" stroke="#231f20" stroke-width="1.1" />
<text x="250.45" y="623.7" font-size="8.4" text-anchor="middle" >n.s.</text>
<line x1="237" y1="636" x2="252.4" y2="636" stroke="#231f20" stroke-width="1.1" />
<text x="244.7" y="636.2" font-size="9.5" text-anchor="middle" >*</text>
<text x="174.9" y="673.8" font-size="10.6" text-anchor="middle" textLength="72.3" lengthAdjust="spacingAndGlyphs" transform="rotate(-90 174.9 673.8)" >Relative expression</text>
<text x="214.8" y="732.7" font-size="9.8" text-anchor="end" textLength="31.5" lengthAdjust="spacingAndGlyphs" transform="rotate(-45 214.8 732.7)" >Control</text>
<text x="254.9" y="733.5" font-size="9.8" text-anchor="end" textLength="20.5" lengthAdjust="spacingAndGlyphs" transform="rotate(-45 254.9 733.5)" >IFN-γ</text>
<text x="353.8" y="595.4" font-size="9.8" text-anchor="middle" textLength="24.7" lengthAdjust="spacingAndGlyphs" >CIITA</text>
<rect x="324.9" y="602.2" width="4.8" height="4.8" fill="#c90a26" />
<text x="333.8" y="607.5" font-size="8.5" >WT</text>
<rect x="324.9" y="615.1" width="4.8" height="4.8" fill="#2ba5de" />
<text x="333.8" y="620.4" font-size="8.5" ><tspan font-style="italic">Ripk1</tspan><tspan font-size="6.2" dy="-3.3" font-style="italic">K45A/K45A</tspan></text>
<line x1="321" y1="624.01" x2="321" y2="722.9" stroke="#231f20" stroke-width="1.3" />
<line x1="320.4" y1="722.3" x2="386.7" y2="722.3" stroke="#231f20" stroke-width="1.3" />
<line x1="317.7" y1="722.3" x2="321" y2="722.3" stroke="#231f20" stroke-width="1.1" />
<text x="314.3" y="725.4" font-size="9.7" text-anchor="end" textLength="4.75" lengthAdjust="spacingAndGlyphs" >0</text>
<line x1="317.7" y1="690.97" x2="321" y2="690.97" stroke="#231f20" stroke-width="1.1" />
<text x="314.3" y="694.07" font-size="9.7" text-anchor="end" textLength="9.5" lengthAdjust="spacingAndGlyphs" >10</text>
<line x1="317.7" y1="659.64" x2="321" y2="659.64" stroke="#231f20" stroke-width="1.1" />
<text x="314.3" y="662.74" font-size="9.7" text-anchor="end" textLength="9.5" lengthAdjust="spacingAndGlyphs" >20</text>
<line x1="317.7" y1="628.31" x2="321" y2="628.31" stroke="#231f20" stroke-width="1.1" />
<text x="314.3" y="631.41" font-size="9.7" text-anchor="end" textLength="9.5" lengthAdjust="spacingAndGlyphs" >30</text>
<line x1="335.4" y1="722.3" x2="335.4" y2="725.3" stroke="#231f20" stroke-width="1.1" />
<line x1="371.3" y1="722.3" x2="371.3" y2="725.3" stroke="#231f20" stroke-width="1.1" />
<line x1="329.6" y1="719.48" x2="329.6" y2="720.11" stroke="#231f20" stroke-width="1" />
<line x1="327.29" y1="719.48" x2="331.91" y2="719.48" stroke="#231f20" stroke-width="1" />
<rect x="326.1" y="720.11" width="7" height="2.19" fill="#c90a26" />
<line x1="342.6" y1="719.48" x2="342.6" y2="720.11" stroke="#231f20" stroke-width="1" />
<line x1="340.29" y1="719.48" x2="344.91" y2="719.48" stroke="#231f20" stroke-width="1" />
<rect x="339.1" y="720.11" width="7" height="2.19" fill="#2ba5de" />
<line x1="364.95" y1="633.32" x2="364.95" y2="638.96" stroke="#231f20" stroke-width="1" />
<line x1="362.55" y1="633.32" x2="367.35" y2="633.32" stroke="#231f20" stroke-width="1" />
<rect x="361.2" y="638.96" width="7.5" height="83.34" fill="#c90a26" />
<line x1="377.85" y1="673.43" x2="377.85" y2="681.26" stroke="#231f20" stroke-width="1" />
<line x1="375.45" y1="673.43" x2="380.25" y2="673.43" stroke="#231f20" stroke-width="1" />
<rect x="374.1" y="681.26" width="7.5" height="41.04" fill="#2ba5de" />
<line x1="364.6" y1="629.3" x2="377.1" y2="629.3" stroke="#231f20" stroke-width="1.1" />
<text x="370.85" y="629.5" font-size="9.5" text-anchor="middle" >**</text>
<text x="298.1" y="673" font-size="10.6" text-anchor="middle" textLength="72.7" lengthAdjust="spacingAndGlyphs" transform="rotate(-90 298.1 673)" >Relative expression</text>
<text x="339.4" y="732.8" font-size="9.8" text-anchor="end" textLength="31.5" lengthAdjust="spacingAndGlyphs" transform="rotate(-45 339.4 732.8)" >Control</text>
<text x="373.6" y="733.6" font-size="9.8" text-anchor="end" textLength="20.5" lengthAdjust="spacingAndGlyphs" transform="rotate(-45 373.6 733.6)" >IFN-γ</text>
<text x="466.8" y="600.2" font-size="9.8" text-anchor="middle" textLength="41.7" lengthAdjust="spacingAndGlyphs" >H2-DMB1</text>
<rect x="440.1" y="608" width="4.8" height="4.8" fill="#c90a26" />
<text x="448.7" y="613.3" font-size="8.5" >WT</text>
<rect x="440.1" y="620.5" width="4.8" height="4.8" fill="#2ba5de" />
<text x="448.7" y="625.8" font-size="8.5" ><tspan font-style="italic">Ripk1</tspan><tspan font-size="6.2" dy="-3.3" font-style="italic">K45A/K45A</tspan></text>
<line x1="435.8" y1="624.1" x2="435.8" y2="722.7" stroke="#231f20" stroke-width="1.3" />
<line x1="435.2" y1="722.1" x2="498.3" y2="722.1" stroke="#231f20" stroke-width="1.3" />
<line x1="432.5" y1="722.1" x2="435.8" y2="722.1" stroke="#231f20" stroke-width="1.1" />
<text x="429" y="725.2" font-size="9.7" text-anchor="end" textLength="4.75" lengthAdjust="spacingAndGlyphs" >0</text>
<line x1="432.5" y1="703.36" x2="435.8" y2="703.36" stroke="#231f20" stroke-width="1.1" />
<text x="429" y="706.46" font-size="9.7" text-anchor="end" textLength="9.5" lengthAdjust="spacingAndGlyphs" >10</text>
<line x1="432.5" y1="684.62" x2="435.8" y2="684.62" stroke="#231f20" stroke-width="1.1" />
<text x="429" y="687.72" font-size="9.7" text-anchor="end" textLength="9.5" lengthAdjust="spacingAndGlyphs" >20</text>
<line x1="432.5" y1="665.88" x2="435.8" y2="665.88" stroke="#231f20" stroke-width="1.1" />
<text x="429" y="668.98" font-size="9.7" text-anchor="end" textLength="9.5" lengthAdjust="spacingAndGlyphs" >30</text>
<line x1="432.5" y1="647.14" x2="435.8" y2="647.14" stroke="#231f20" stroke-width="1.1" />
<text x="429" y="650.24" font-size="9.7" text-anchor="end" textLength="9.5" lengthAdjust="spacingAndGlyphs" >40</text>
<line x1="432.5" y1="628.4" x2="435.8" y2="628.4" stroke="#231f20" stroke-width="1.1" />
<text x="429" y="631.5" font-size="9.7" text-anchor="end" textLength="9.5" lengthAdjust="spacingAndGlyphs" >50</text>
<line x1="450.5" y1="722.1" x2="450.5" y2="725.1" stroke="#231f20" stroke-width="1.1" />
<line x1="483.4" y1="722.1" x2="483.4" y2="725.1" stroke="#231f20" stroke-width="1.1" />
<line x1="444" y1="720.23" x2="444" y2="720.6" stroke="#231f20" stroke-width="1" />
<line x1="441.79" y1="720.23" x2="446.21" y2="720.23" stroke="#231f20" stroke-width="1" />
<rect x="440.65" y="720.6" width="6.7" height="1.5" fill="#c90a26" />
<line x1="455.6" y1="721.16" x2="455.6" y2="721.54" stroke="#231f20" stroke-width="1" />
<line x1="453.39" y1="721.16" x2="457.81" y2="721.16" stroke="#231f20" stroke-width="1" />
<rect x="452.25" y="721.54" width="6.7" height="0.56" fill="#2ba5de" />
<line x1="477.4" y1="644.33" x2="477.4" y2="645.83" stroke="#231f20" stroke-width="1" />
<line x1="475.02" y1="644.33" x2="479.78" y2="644.33" stroke="#231f20" stroke-width="1" />
<rect x="473.8" y="645.83" width="7.2" height="76.27" fill="#c90a26" />
<line x1="489.95" y1="679.94" x2="489.95" y2="684.06" stroke="#231f20" stroke-width="1" />
<line x1="487.55" y1="679.94" x2="492.35" y2="679.94" stroke="#231f20" stroke-width="1" />
<rect x="486.25" y="684.06" width="7.4" height="38.04" fill="#2ba5de" />
<line x1="478.9" y1="639.8" x2="491.1" y2="639.8" stroke="#231f20" stroke-width="1.1" />
<text x="485" y="640" font-size="9.5" text-anchor="middle" >****</text>
<text x="412.9" y="672.6" font-size="10.6" text-anchor="middle" textLength="71.5" lengthAdjust="spacingAndGlyphs" transform="rotate(-90 412.9 672.6)" >Relative expression</text>
<text x="454.5" y="732.6" font-size="9.8" text-anchor="end" textLength="31.5" lengthAdjust="spacingAndGlyphs" transform="rotate(-45 454.5 732.6)" >Control</text>
<text x="485.7" y="733.4" font-size="9.8" text-anchor="end" textLength="20.5" lengthAdjust="spacingAndGlyphs" transform="rotate(-45 485.7 733.4)" >IFN-γ</text>
</svg></body></html>
